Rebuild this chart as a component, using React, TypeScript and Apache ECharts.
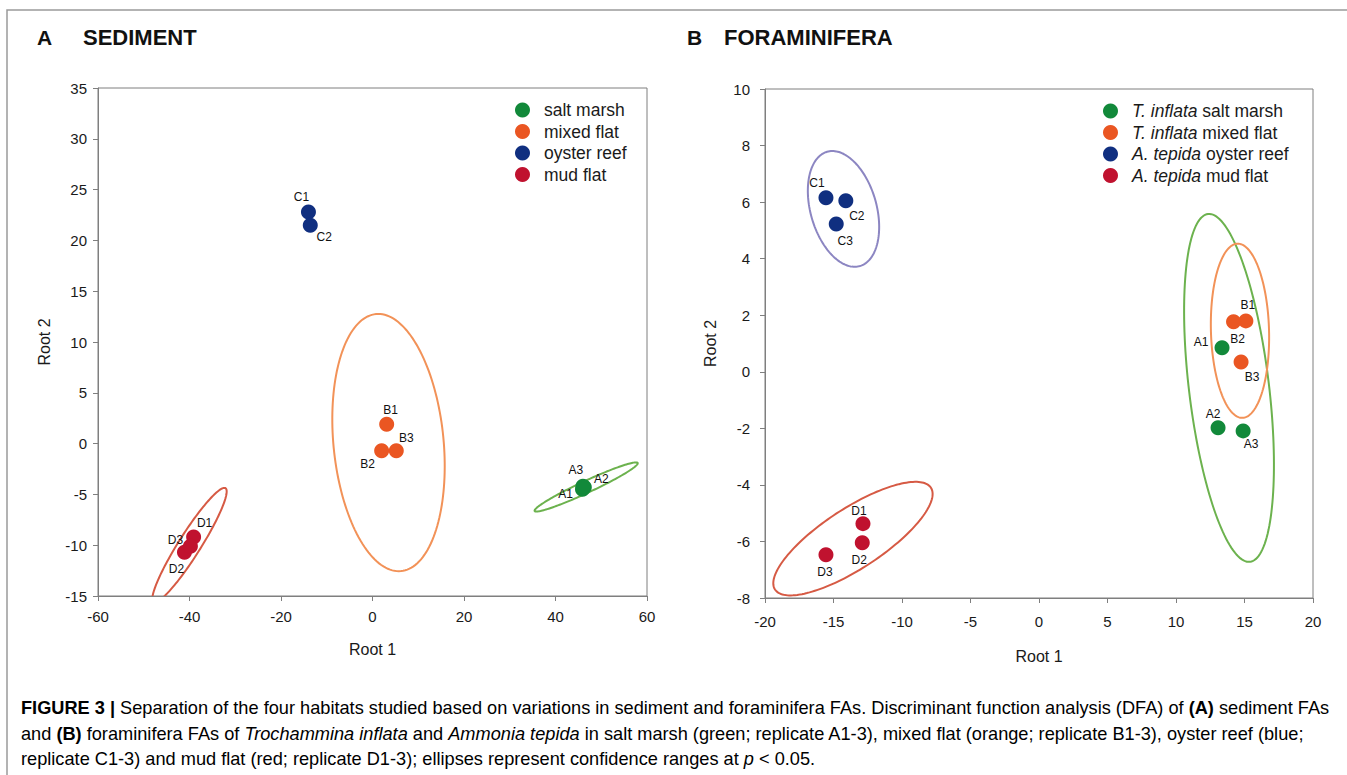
import React, { useEffect, useRef } from "react";
import * as echarts from "echarts";

// ---------- Panel A: SEDIMENT (Root 1, Root 2, replicate id) ----------
const sedSaltMarsh: [number, number, string][] = [
  [45.9, -4.5, "A1"],
  [46.3, -4.3, "A2"],
  [46.0, -4.2, "A3"],
];
const sedMixedFlat: [number, number, string][] = [
  [3.1, 1.9, "B1"],
  [2.0, -0.7, "B2"],
  [5.2, -0.7, "B3"],
];
const sedOysterReef: [number, number, string][] = [
  [-14.0, 22.8, "C1"],
  [-13.6, 21.5, "C2"],
];
const sedMudFlat: [number, number, string][] = [
  [-39.1, -9.2, "D1"],
  [-41.1, -10.7, "D2"],
  [-39.8, -10.1, "D3"],
];

// ---------- Panel B: FORAMINIFERA ----------
const foraSaltMarsh: [number, number, string][] = [
  [13.36, 0.85, "A1"],
  [13.07, -1.98, "A2"],
  [14.9, -2.09, "A3"],
];
const foraMixedFlat: [number, number, string][] = [
  [15.1, 1.8, "B1"],
  [14.2, 1.77, "B2"],
  [14.75, 0.35, "B3"],
];
const foraOysterReef: [number, number, string][] = [
  [-15.55, 6.15, "C1"],
  [-14.1, 6.05, "C2"],
  [-14.8, 5.23, "C3"],
];
const foraMudFlat: [number, number, string][] = [
  [-12.85, -5.37, "D1"],
  [-12.9, -6.05, "D2"],
  [-15.55, -6.47, "D3"],
];

// Confidence ellipses: [centre x, centre y, half-axis 1 (x, y), half-axis 2 (x, y)] in data units
const ellSedSalt = [46.7, -4.27, 11.26, 2.36, 0.55, -0.53];
const ellSedMixed = [3.5, 0.1, 2.73, -12.65, 11.98, 0.52];
const ellSedMud = [-40.0, -10.0, 7.87, 5.61, 2.03, -0.58];
const ellForaSalt = [13.87, -0.57, 1.53, -6.15, 2.9, 0.17];
const ellForaMixed = [14.67, 1.45, 0.18, -3.08, 2.12, 0.03];
const ellForaOyster = [-14.27, 5.76, 1.2, -2.02, 2.31, 0.33];
const ellForaMud = [-13.58, -5.9, 5.69, 1.8, 1.2, -0.89];

const sedNames = ["salt marsh", "mixed flat", "oyster reef", "mud flat"];
const foraNames = [
  "T. inflata salt marsh",
  "T. inflata mixed flat",
  "A. tepida oyster reef",
  "A. tepida mud flat",
];

const sedXTicks = { min: -60, max: 60, interval: 20 };
const sedYTicks = { min: -15, max: 35, interval: 5 };
const foraXTicks = { min: -20, max: 20, interval: 5 };
const foraYTicks = { min: -8, max: 10, interval: 2 };

// ---------- styles ----------
const FONT = "Liberation Sans, Arial, Helvetica, sans-serif";
const DOT = { salt: "#12893a", mixed: "#ea5622", oyster: "#102f80", mud: "#c0122f" };
const ELL = { salt: "#6cb24e", mixed: "#f29258", oyster: "#8c86c2", mud: "#d65a44" };

// label offsets (px from the dot centre)
const sedLabelOffsets: Record<string, [number, number]> = {
  A1: [-17, 5], A2: [17, -8], A3: [-7, -16],
  B1: [4, -14], B2: [-14, 13], B3: [10, -13],
  C1: [-7, -15], C2: [14, 12],
  D1: [11, -14], D2: [-8, 17], D3: [-15, -6],
};
const foraLabelOffsets: Record<string, [number, number]> = {
  A1: [-21, -6], A2: [-5, -14], A3: [8, 13],
  B1: [2, -16], B2: [4, 17], B3: [11, 15],
  C1: [-9, -15], C2: [11, 15], C3: [9, 17],
  D1: [-4, -13], D2: [-3, 17], D3: [-1, 17],
};

function scatter(name: string, pts: [number, number, string][], color: string, idx: number, offsets: Record<string, [number, number]>) {
  return {
    type: "scatter",
    name,
    xAxisIndex: idx,
    yAxisIndex: idx,
    symbol: "circle",
    symbolSize: 15,
    z: 3,
    itemStyle: { color, opacity: 1 },
    label: {
      show: true,
      position: "inside",
      formatter: "{b}",
      fontFamily: FONT,
      fontSize: 12,
      color: "#111",
    },
    data: pts.map((p) => ({
      name: p[2],
      value: [p[0], p[1]],
      label: { offset: offsets[p[2]] },
    })),
  };
}

function ellipse(params: number[], color: string, idx: number) {
  return {
    type: "custom",
    xAxisIndex: idx,
    yAxisIndex: idx,
    clip: true,
    silent: true,
    z: 2,
    data: [params],
    renderItem: (_p: any, api: any) => {
      const cx = api.value(0), cy = api.value(1);
      const ux = api.value(2), uy = api.value(3);
      const vx = api.value(4), vy = api.value(5);
      const pts: number[][] = [];
      const n = 160;
      for (let k = 0; k <= n; k++) {
        const t = (k / n) * Math.PI * 2;
        pts.push(api.coord([cx + ux * Math.cos(t) + vx * Math.sin(t), cy + uy * Math.cos(t) + vy * Math.sin(t)]));
      }
      return {
        type: "polygon",
        shape: { points: pts },
        style: { fill: "none", stroke: color, lineWidth: 2 },
      };
    },
  };
}

const axisCommon = {
  axisLine: { show: true, onZero: false, lineStyle: { color: "#7f7f7f", width: 1 } },
  axisTick: { show: true, inside: false, length: 5, lineStyle: { color: "#7f7f7f" } },
  splitLine: { show: false },
  nameTextStyle: { fontFamily: FONT, fontSize: 16, color: "#1a1a1a" },
};

function xAx(idx: number, t: any, margin: number, gap: number) {
  return {
    type: "value", gridIndex: idx, ...t, ...axisCommon,
    name: "Root 1", nameLocation: "middle", nameGap: gap,
    axisLabel: { fontFamily: FONT, fontSize: 15, color: "#1a1a1a", margin },
  };
}
function yAx(idx: number, t: any, margin: number, gap: number) {
  return {
    type: "value", gridIndex: idx, ...t, ...axisCommon,
    name: "Root 2", nameLocation: "middle", nameGap: gap,
    axisLabel: { fontFamily: FONT, fontSize: 15, color: "#1a1a1a", margin },
  };
}

const captionLines = [
  "{b|FIGURE 3 |}{n| Separation of the four habitats studied based on variations in sediment and foraminifera FAs. Discriminant function analysis (DFA) of }{b|(A)}{n| sediment FAs}",
  "{n|and }{b|(B)}{n| foraminifera FAs of }{i|Trochammina inflata}{n| and }{i|Ammonia tepida}{n| in salt marsh (green; replicate A1-3), mixed flat (orange; replicate B1-3), oyster reef (blue;}",
  "{n|replicate C1-3) and mud flat (red; replicate D1-3); ellipses represent confidence ranges at }{i|p}{n| < 0.05.}",
];

export default function App() {
  const ref = useRef<HTMLDivElement>(null);
  useEffect(() => {
    if (!ref.current) return;
    const chart = echarts.init(ref.current, undefined, { renderer: "svg" });
    const CAP = 18.2;
    const capRich = {
      n: { fontFamily: FONT, fontSize: CAP, color: "#333" },
      b: { fontFamily: FONT, fontSize: CAP, color: "#222", fontWeight: "bold" },
      i: { fontFamily: FONT, fontSize: CAP, color: "#333", fontStyle: "italic" },
    };
    const LEG = 17.5;
    const option: any = {
      animation: false,
      backgroundColor: "#ffffff",
      grid: [
        { left: 98, top: 88, width: 549, height: 508, show: true, borderColor: "#7f7f7f", borderWidth: 1, backgroundColor: "transparent" },
        { left: 765, top: 89, width: 548, height: 509, show: true, borderColor: "#7f7f7f", borderWidth: 1, backgroundColor: "transparent" },
      ],
      xAxis: [xAx(0, sedXTicks, 13, 45), xAx(1, foraXTicks, 16, 50)],
      yAxis: [yAx(0, sedYTicks, 11, 46), yAx(1, foraYTicks, 15, 47)],
      legend: [
        {
          data: sedNames,
          left: 510,
          top: 96,
          orient: "vertical",
          icon: "circle",
          itemWidth: 15,
          itemHeight: 15,
          itemGap: 3.5,
          textStyle: { fontFamily: FONT, fontSize: LEG, color: "#1a1a1a", padding: [0, 0, 0, 9] },
        },
        {
          data: foraNames,
          left: 1098,
          top: 97,
          orient: "vertical",
          icon: "circle",
          itemWidth: 15,
          itemHeight: 15,
          itemGap: 3.5,
          formatter: (name: string) => {
            const parts = name.split(" ");
            return "{i|" + parts.slice(0, 2).join(" ") + "}{n| " + parts.slice(2).join(" ") + "}";
          },
          textStyle: {
            fontFamily: FONT,
            fontSize: LEG,
            color: "#1a1a1a",
            padding: [0, 0, 0, 9],
            rich: {
              i: { fontFamily: FONT, fontSize: LEG, fontStyle: "italic", color: "#1a1a1a" },
              n: { fontFamily: FONT, fontSize: LEG, color: "#1a1a1a" },
            },
          },
        },
      ],
      graphic: [
        { type: "rect", silent: true, shape: { x: 7, y: 10, width: 1400, height: 820 }, style: { fill: "none", stroke: "#9a9a9a", lineWidth: 1.5 } },
        { type: "text", left: 37, top: 27, style: { text: "A", font: "bold 21px " + FONT, fill: "#111" } },
        { type: "text", left: 83, top: 26, style: { text: "SEDIMENT", font: "bold 22px " + FONT, fill: "#111" } },
        { type: "text", left: 687, top: 27, style: { text: "B", font: "bold 21px " + FONT, fill: "#111" } },
        { type: "text", left: 724, top: 26, style: { text: "FORAMINIFERA", font: "bold 22px " + FONT, fill: "#111" } },
        ...captionLines.map((t, k) => ({
          type: "text",
          left: 21,
          top: 699 + k * 25.7,
          style: { text: t, rich: capRich, font: CAP + "px " + FONT },
        })),
      ],
      series: [
        ellipse(ellSedSalt, ELL.salt, 0),
        ellipse(ellSedMixed, ELL.mixed, 0),
        ellipse(ellSedMud, ELL.mud, 0),
        scatter(sedNames[0], sedSaltMarsh, DOT.salt, 0, sedLabelOffsets),
        scatter(sedNames[1], sedMixedFlat, DOT.mixed, 0, sedLabelOffsets),
        scatter(sedNames[2], sedOysterReef, DOT.oyster, 0, sedLabelOffsets),
        scatter(sedNames[3], sedMudFlat, DOT.mud, 0, sedLabelOffsets),
        ellipse(ellForaSalt, ELL.salt, 1),
        ellipse(ellForaMixed, ELL.mixed, 1),
        ellipse(ellForaOyster, ELL.oyster, 1),
        ellipse(ellForaMud, ELL.mud, 1),
        scatter(foraNames[0], foraSaltMarsh, DOT.salt, 1, foraLabelOffsets),
        scatter(foraNames[1], foraMixedFlat, DOT.mixed, 1, foraLabelOffsets),
        scatter(foraNames[2], foraOysterReef, DOT.oyster, 1, foraLabelOffsets),
        scatter(foraNames[3], foraMudFlat, DOT.mud, 1, foraLabelOffsets),
      ],
    };
    chart.setOption(option);
    return () => chart.dispose();
  }, []);
  return <div ref={ref} style={{ position: "absolute", left: 0, top: 0, width: 1347, height: 775 }} />;
}
